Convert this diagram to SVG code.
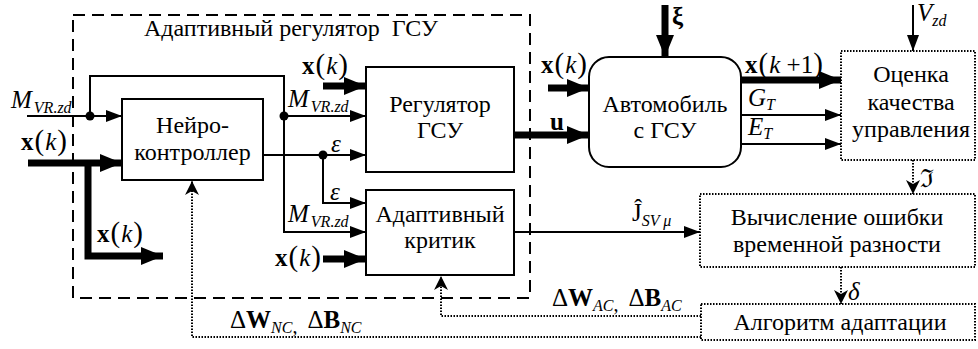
<svg xmlns="http://www.w3.org/2000/svg" width="978" height="349" viewBox="0 0 978 349" font-family="'Liberation Serif', 'DejaVu Serif', serif">
<style>
text{font-family:'Liberation Serif','DejaVu Serif',serif;fill:#000}
.t{font-size:24px;text-anchor:middle}
.box{fill:#fff;stroke:#000;stroke-width:2}
.dot{fill:#fff;stroke:#000;stroke-width:2;stroke-dasharray:1.5 1.5}
.ln{fill:none;stroke:#000;stroke-width:2}
.bd{fill:none;stroke:#000;stroke-width:7}
.dl{fill:none;stroke:#000;stroke-width:2;stroke-dasharray:1.5 1.5}
.i{font-style:italic}
.b{font-weight:bold}
.m{font-size:25px}
.p{font-size:29px}
.s{font-size:16px;font-style:italic}
.pre{white-space:pre}
</style>
<defs>
<marker id="a" markerUnits="userSpaceOnUse" viewBox="0 0 16 12" markerWidth="16" markerHeight="12" refX="16" refY="6" orient="auto"><path d="M0,0L16,6L0,12z"/></marker>
<marker id="ab" markerUnits="userSpaceOnUse" viewBox="0 0 22 18" markerWidth="22" markerHeight="18" refX="22" refY="9" orient="auto"><path d="M0,0L22,9L0,18z"/></marker>
<marker id="ad" markerUnits="userSpaceOnUse" viewBox="0 0 14 14" markerWidth="14" markerHeight="14" refX="14" refY="7" orient="auto"><path d="M0,0L14,7L0,14L4,7z"/></marker>
</defs>

<g id="adaptive-regulator">
<rect x="73" y="15" width="457" height="283" fill="none" stroke="#000" stroke-width="2" stroke-dasharray="12 7"/>
<text x="291" y="36" class="pre" style="font-size:24px;text-anchor:middle">Адаптивный регулятор  ГСУ</text>
</g>

<g id="connectors">
<path class="ln" d="M27,116H122" marker-end="url(#a)"/>
<path class="ln" d="M90,116V76H284V232H366" marker-end="url(#a)"/>
<path class="ln" d="M284,116H366" marker-end="url(#a)"/>
<path class="bd" d="M28,163H122" marker-end="url(#ab)"/>
<path class="bd" d="M88,163V256H163" marker-end="url(#ab)"/>
<path class="ln" d="M263,155H366" marker-end="url(#a)"/>
<path class="ln" d="M323,155V203H366" marker-end="url(#a)"/>
<path class="bd" d="M323,86H366" marker-end="url(#ab)"/>
<path class="bd" d="M323,259H366" marker-end="url(#ab)"/>
<path class="bd" d="M514,135H589" marker-end="url(#ab)"/>
<path class="bd" d="M548,88H589" marker-end="url(#ab)"/>
<path class="bd" d="M665,5V57" marker-end="url(#ab)"/>
<path class="bd" d="M741,80H841" marker-end="url(#ab)"/>
<path class="ln" d="M741,115H841" marker-end="url(#a)"/>
<path class="ln" d="M741,144H841" marker-end="url(#a)"/>
<path class="ln" d="M913,5V51" marker-end="url(#a)"/>
<path class="ln" d="M514,232H700" marker-end="url(#a)"/>
<path class="dl" d="M913,160V194" marker-end="url(#ad)"/>
<path class="dl" d="M841,267V304" marker-end="url(#ad)"/>
<path class="dl" d="M701,316H441V276" marker-end="url(#ad)"/>
<path class="dl" d="M701,337H192V181" marker-end="url(#ad)"/>
<circle cx="90" cy="116" r="4.5"/>
<circle cx="284" cy="116" r="4.5"/>
<circle cx="323" cy="155" r="4.5"/>
</g>

<g id="neuro-controller">
<rect class="box" x="122" y="99" width="141" height="81"/>
<text class="t" x="192.5" y="133">Нейро-</text>
<text class="t" x="192.5" y="160">контроллер</text>
</g>

<g id="regulator">
<rect class="box" x="366" y="67" width="148" height="105"/>
<text class="t" x="440" y="112">Регулятор</text>
<text class="t" x="440" y="138">ГСУ</text>
</g>

<g id="critic">
<rect class="box" x="366" y="190" width="148" height="85"/>
<text class="t" x="440" y="222">Адаптивный</text>
<text class="t" x="440" y="248">критик</text>
</g>

<g id="car">
<rect class="box" x="589" y="57" width="152" height="110" rx="20"/>
<text class="t" x="665" y="112">Автомобиль</text>
<text class="t" x="665" y="138">с ГСУ</text>
</g>

<g id="quality">
<rect class="dot" x="841" y="51" width="134" height="109"/>
<text class="t" x="911" y="82">Оценка</text>
<text class="t" x="911" y="110">качества</text>
<text class="t" x="911" y="137">управления</text>
</g>

<g id="td-error">
<rect class="dot" x="700" y="194" width="275" height="73"/>
<text class="t" x="837" y="225">Вычисление ошибки</text>
<text class="t" x="837" y="252">временной разности</text>
</g>

<g id="adaptation">
<rect class="dot" x="701" y="304" width="274" height="36"/>
<text class="t" x="840" y="330">Алгоритм адаптации</text>
</g>

<g id="labels">
<text x="11" y="108" class="m i">M<tspan class="s" dx="2" dy="5">VR.zd</tspan></text>
<text x="21" y="150" class="m"><tspan class="b">x</tspan><tspan class="p" dx="1">(</tspan><tspan class="i" dx="1">k</tspan><tspan class="p" dx="1">)</tspan></text>
<text x="97" y="242" class="m"><tspan class="b">x</tspan><tspan class="p" dx="1">(</tspan><tspan class="i" dx="1">k</tspan><tspan class="p" dx="1">)</tspan></text>
<text x="302" y="74" class="m"><tspan class="b">x</tspan><tspan class="p" dx="1">(</tspan><tspan class="i" dx="1">k</tspan><tspan class="p" dx="1">)</tspan></text>
<text x="288" y="107" class="m i">M<tspan class="s" dx="2" dy="5">VR.zd</tspan></text>
<text x="331" y="152" class="m i">ε</text>
<text x="330" y="200" class="m i">ε</text>
<text x="288" y="222" class="m i">M<tspan class="s" dx="2" dy="5">VR.zd</tspan></text>
<text x="275" y="266" class="m"><tspan class="b">x</tspan><tspan class="p" dx="1">(</tspan><tspan class="i" dx="1">k</tspan><tspan class="p" dx="1">)</tspan></text>
<text x="541" y="73" class="m"><tspan class="b">x</tspan><tspan class="p" dx="1">(</tspan><tspan class="i" dx="1">k</tspan><tspan class="p" dx="1">)</tspan></text>
<text x="550" y="130" class="m b">u</text>
<text x="672" y="25" class="m b">ξ</text>
<text x="917" y="21" class="m i">V<tspan class="s" dy="5">zd</tspan></text>
<text x="745" y="73" class="m pre"><tspan class="b">x</tspan><tspan class="p" dx="1">(</tspan><tspan class="i" dx="1">k</tspan> +1<tspan class="p">)</tspan></text>
<text x="748" y="106" class="m i">G<tspan class="s" dy="4">T</tspan></text>
<text x="748" y="135" class="m i">E<tspan class="s" dy="4">T</tspan></text>
<text x="920" y="187" class="m">ℑ</text>
<text x="848" y="300" class="m i">δ</text>
<text x="632" y="221" class="m">Ĵ<tspan class="s" dy="5">SV μ</tspan></text>
<text x="552" y="306" class="m pre"><tspan>Δ</tspan><tspan class="b">W</tspan><tspan class="s" dy="5">AC</tspan><tspan style="font-size:20px">,  </tspan><tspan dy="-5">Δ</tspan><tspan class="b">B</tspan><tspan class="s" dy="5">AC</tspan></text>
<text x="230" y="328" class="m pre"><tspan>Δ</tspan><tspan class="b">W</tspan><tspan class="s" dy="5">NC</tspan><tspan style="font-size:20px">,  </tspan><tspan dy="-5">Δ</tspan><tspan class="b">B</tspan><tspan class="s" dy="5">NC</tspan></text>
</g>
</svg>
